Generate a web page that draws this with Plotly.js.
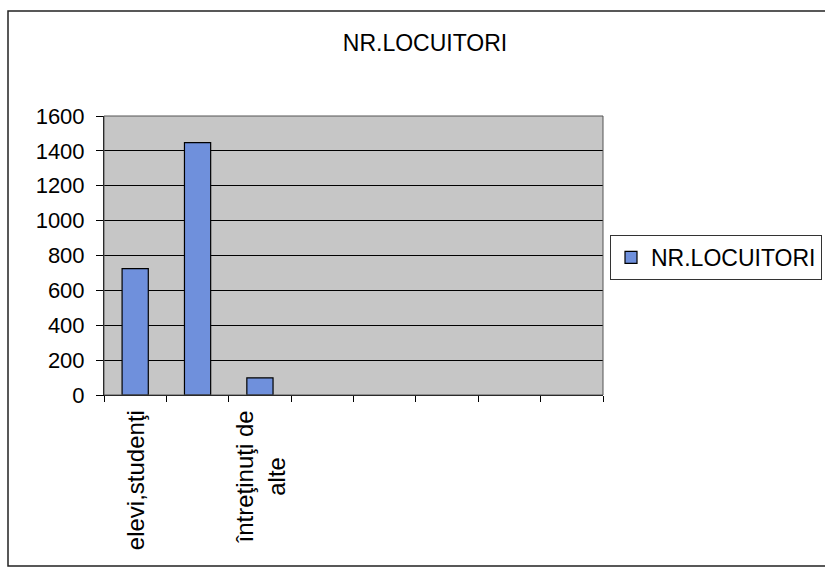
<!DOCTYPE html>
<html>
<head>
<meta charset="utf-8">
<script src="https://cdn.plot.ly/plotly-2.35.2.min.js"></script>
<style>html,body{margin:0;padding:0;background:#fff;}#chart{width:825px;height:571px;}</style>
</head>
<body>
<div id="chart"></div>
<script>
// Data
const categoryIndex = [0, 1, 2, 3, 4, 5, 6, 7];
const categoryLabels = ["elevi,studenţi", "", "întreţinuţi de<br>alte", "", "", "", "", ""];
const values = [725, 1447, 98, null, null, null, null, null];
const seriesName = "NR.LOCUITORI";
const chartTitle = "NR.LOCUITORI";
const yTicks = [0, 200, 400, 600, 800, 1000, 1200, 1400, 1600];

const L = 104, R = 603, T = 116, B = 395, W = 825, H = 571;
const px = x => (x - L) / (R - L);
const py = y => (B - y) / (B - T);

const fontFam = "Liberation Sans, Arial, sans-serif";

const trace = {
  type: "bar",
  x: categoryIndex,
  y: values,
  name: seriesName,
  width: 0.42,
  marker: {color: "#6f90dc", line: {color: "#000", width: 1.2}},
  showlegend: true
};

const labelAnnotations = categoryIndex
  .filter(i => categoryLabels[i] !== "")
  .map(i => ({
    x: i, xref: "x", y: 0, yref: "paper",
    text: categoryLabels[i], showarrow: false,
    textangle: -90, xanchor: "center", yanchor: "top", align: "center",
    yshift: -13,
    font: {family: fontFam, size: 24, color: "#000"}
  }));

const layout = {
  width: W, height: H,
  margin: {l: L, r: W - R, t: T, b: H - B, pad: 0, autoexpand: false},
  paper_bgcolor: "#ffffff",
  plot_bgcolor: "#c6c6c6",
  font: {family: fontFam, color: "#000", size: 22},
  title: {text: chartTitle, xref: "container", x: 425 / W, xanchor: "center",
          yref: "container", y: 1 - 43 / H, yanchor: "middle",
          font: {family: fontFam, size: 23, color: "#000"}},
  xaxis: {
    range: [-0.5, 7.5], fixedrange: true,
    tickmode: "array", tickvals: categoryIndex, showticklabels: false,
    ticks: "", showgrid: false, zeroline: false,
    showline: true, linecolor: "#000", linewidth: 1,
    minor: {tickmode: "linear", tick0: -0.5, dtick: 1, ticks: "outside", ticklen: 6, tickcolor: "#000", tickwidth: 1, showgrid: false}
  },
  yaxis: {
    range: [0, 1600], fixedrange: true,
    tickmode: "array", tickvals: yTicks,
    ticks: "outside", ticklen: 7, tickcolor: "#000", tickwidth: 1,
    ticklabelstandoff: 7,
    showgrid: true, gridcolor: "#000", gridwidth: 1,
    zeroline: false, showline: true, linecolor: "#000", linewidth: 1,
    tickfont: {family: fontFam, size: 22, color: "#000"}
  },
  legend: {
    xref: "container", yref: "container",
    x: 610 / W, y: 1 - 235 / H, xanchor: "left", yanchor: "top",
    bgcolor: "#fff", bordercolor: "#333", borderwidth: 1,
    font: {family: fontFam, size: 23, color: "#000"},
    itemwidth: 30
  },
  annotations: labelAnnotations,
  shapes: [
    {type: "rect", xref: "paper", yref: "paper", x0: px(8), x1: px(840), y0: py(566), y1: py(11),
     line: {color: "#222", width: 1.5}, fillcolor: "rgba(0,0,0,0)", layer: "below"},
    {type: "rect", xref: "paper", yref: "paper", x0: 0, x1: 1, y0: 0, y1: 1,
     line: {color: "#555", width: 1}, fillcolor: "rgba(0,0,0,0)"}
  ]
};

Plotly.newPlot("chart", [trace], layout, {staticPlot: true, displayModeBar: false});
</script>
</body>
</html>
